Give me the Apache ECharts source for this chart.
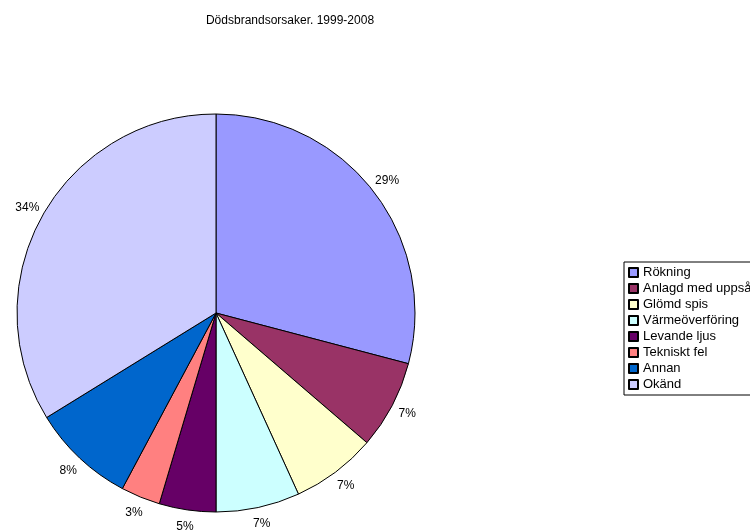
<!DOCTYPE html>
<html lang="sv">
<head>
    <meta charset="UTF-8">
    <script src="https://cdn.jsdelivr.net/npm/echarts@6/dist/echarts.min.js"></script>
</head>
<body style="margin:0;background:#fff;">
<div id="main" style="width:750px;height:532px;"></div>
<script type="text/javascript">
    // orsaker och andelar
    var categories = ['Rökning', 'Anlagd med uppsåt', 'Glömd spis', 'Värmeöverföring',
        'Levande ljus', 'Tekniskt fel', 'Annan', 'Okänd'];
    var values = [29.1, 7.2, 6.9, 6.8, 4.6, 3.2, 8.4, 33.8];
    var colors = ['#9999FF', '#993366', '#FFFFCC', '#CCFFFF', '#660066', '#FF8080', '#0066CC', '#CCCCFF'];

    var myChart = echarts.init(document.getElementById('main'));

    var pieData = [];
    var labelData = [];
    for (var i = 0; i < categories.length; i++) {
        pieData.push({name: categories[i], value: values[i], itemStyle: {color: colors[i]}});
        labelData.push({name: categories[i], value: values[i]});
    }

    function pct(p) { return Math.round(p.percent) + '%'; }

    var option = {
        animation: false,
        textStyle: {fontFamily: 'Liberation Sans, Arial, sans-serif'},
        title: {
            text: 'Dödsbrandsorsaker. 1999-2008',
            left: 285,
            textAlign: 'center',
            top: 10,
            textStyle: {fontSize: 12, fontWeight: 'normal', color: '#000'}
        },
        legend: {
            orient: 'vertical',
            left: 624,
            top: 262,
            padding: [4, 40, 4, 4],
            borderColor: '#000',
            borderWidth: 1,
            icon: 'rect',
            itemWidth: 9,
            itemHeight: 9,
            itemGap: 3,
            textStyle: {fontSize: 13, color: '#000'},
            data: categories
        },
        series: [{
            type: 'pie',
            center: [216, 313],
            radius: 199,
            startAngle: 90,
            clockwise: true,
            data: pieData,
            itemStyle: {borderColor: '#000', borderWidth: 1},
            label: {show: false},
            labelLine: {show: false},
            emphasis: {disabled: true}
        }, {
            // transparent ring only used to place the percent labels like Excel does
            type: 'pie',
            center: [216, 313],
            radius: [201, 225],
            startAngle: 90,
            clockwise: true,
            silent: true,
            data: labelData,
            itemStyle: {color: 'rgba(0,0,0,0)', borderWidth: 0},
            label: {
                position: 'inside',
                overflow: 'none',
                fontSize: 12,
                color: '#000',
                formatter: pct
            },
            labelLine: {show: false},
            emphasis: {disabled: true}
        }]
    };

    myChart.setOption(option);
</script>
</body>
</html>
